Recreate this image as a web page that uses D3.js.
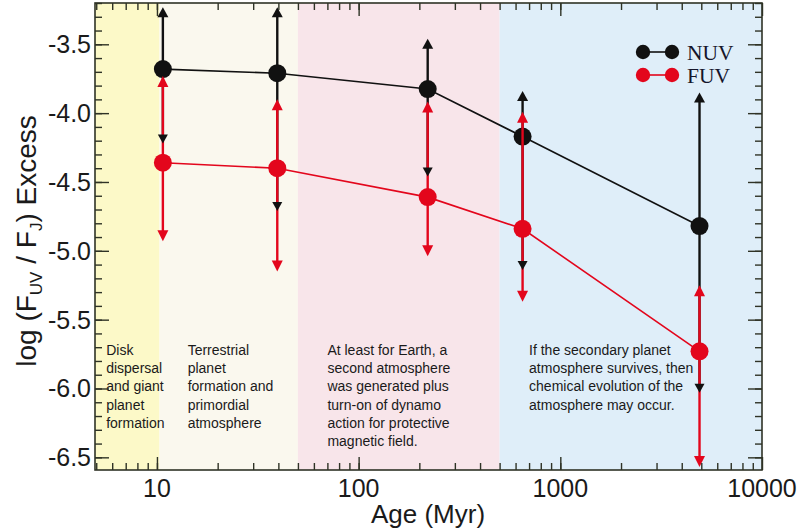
<!DOCTYPE html>
<html><head><meta charset="utf-8">
<script src="https://cdn.jsdelivr.net/npm/d3@7"></script>
<style>body{margin:0;background:#fff}svg{display:block}</style>
</head><body>
<svg id="c" width="800" height="532"></svg>
<script>
// ---- data ----
const ages = [10.7, 39.5, 220, 650, 4900];
const nuv = [-3.68, -3.71, -3.825, -4.17, -4.82];
const nuvUpper = [-3.23, -3.23, -3.46, -3.84, -3.85];
const nuvLower = [-4.22, -4.71, -4.46, -5.14, -6.03];
const fuv = [-4.36, -4.40, -4.61, -4.84, -5.73];
const fuvUpper = [-3.73, -3.90, -3.915, -3.99, -5.25];
const fuvLower = [-4.93, -5.15, -5.04, -5.37, -6.57];
const regionStart = [4.93, 10.3, 50, 500];
const regionEnd = [10.3, 50, 500, 10000];
const regionColor = ["#fcf9c8", "#faf8ee", "#f8e5ea", "#dfeef9"];
const regionText = [
  ["Disk", "dispersal", "and giant", "planet", "formation"],
  ["Terrestrial", "planet", "formation and", "primordial", "atmosphere"],
  ["At least for Earth, a", "second atmosphere", "was generated plus", "turn-on of dynamo", "action for protective", "magnetic field."],
  ["If the secondary planet", "atmosphere survives, then", "chemical evolution of the", "atmosphere may occur."]
];
const regionTextAge = [5.6, 14.2, 70, 700];
const xTickValues = [10, 100, 1000, 10000];
const yTickValues = [-3.5, -4.0, -4.5, -5.0, -5.5, -6.0, -6.5];
const seriesNames = ["NUV", "FUV"];

// ---- layout ----
const L = 95, R = 762, T = 3, B = 470;
const x = d3.scaleLog().domain([4.93, 10000]).range([L, R]);
const y = d3.scaleLinear().domain([-6.592, -3.2]).range([B, T]);
const svg = d3.select("#c");
const black = "#111111", red = "#e3061c", axisCol = "#2f3326";

// regions
svg.selectAll("rect.reg").data(regionStart).join("rect")
  .attr("x", (d) => x(d)).attr("y", T)
  .attr("width", (d, i) => x(regionEnd[i]) - x(d)).attr("height", B - T)
  .attr("fill", (d, i) => regionColor[i]);

// region text
regionText.forEach((lines, i) => {
  const t = svg.append("text").attr("x", x(regionTextAge[i]) ).attr("y", 355)
    .attr("font-family", "Liberation Sans, Arial, sans-serif").attr("font-size", 14)
    .attr("fill", "#1a1a1a");
  lines.forEach((ln, j) => t.append("tspan").attr("x", x(regionTextAge[i])).attr("dy", j ? 18.2 : 0).text(ln));
});

// clip for data
svg.append("clipPath").attr("id", "pc").append("rect").attr("x", L).attr("y", T).attr("width", R - L).attr("height", B - T);
const g = svg.append("g").attr("clip-path", "url(#pc)");

function arrowHead(sel, cx, tipY, dir, col, w, h) {
  const baseY = tipY - dir * h;
  sel.append("path").attr("d", `M${cx - w / 2},${baseY}L${cx + w / 2},${baseY}L${cx},${tipY}Z`).attr("fill", col);
}

const line = (vals) => d3.line().x((d, i) => x(ages[i])).y((d) => y(d))(vals);

// NUV
g.append("path").attr("d", line(nuv)).attr("fill", "none").attr("stroke", black).attr("stroke-width", 1.6);
ages.forEach((a, i) => {
  g.append("line").attr("x1", x(a)).attr("x2", x(a)).attr("y1", y(nuvUpper[i]) + 4).attr("y2", y(nuvLower[i]) - 4)
    .attr("stroke", black).attr("stroke-width", 2.4);
});
g.selectAll("circle.n").data(nuv).join("circle").attr("cx", (d, i) => x(ages[i])).attr("cy", (d) => y(d)).attr("r", 9).attr("fill", black);

// FUV
g.append("path").attr("d", line(fuv)).attr("fill", "none").attr("stroke", red).attr("stroke-width", 1.6);
ages.forEach((a, i) => {
  g.append("line").attr("x1", x(a)).attr("x2", x(a)).attr("y1", y(fuvUpper[i]) + 4).attr("y2", y(fuvLower[i]) - 4)
    .attr("stroke", red).attr("stroke-width", 2.4);
});
g.selectAll("circle.f").data(fuv).join("circle").attr("cx", (d, i) => x(ages[i])).attr("cy", (d) => y(d)).attr("r", 9).attr("fill", red);
ages.forEach((a, i) => {
  arrowHead(g, x(a), y(fuvUpper[i]), -1, red, 11, 11);
  arrowHead(g, x(a), y(fuvLower[i]), 1, red, 11, 11);
});
ages.forEach((a, i) => {
  arrowHead(g, x(a), y(nuvUpper[i]), -1, black, 11, 10);
  arrowHead(g, x(a), y(nuvLower[i]), 1, black, 10, 9);
});

// axes (ticks inward on all sides)
const minorX = [];
for (let e = 0; e < 4; e++) for (let k = 1; k < 10; k++) { const v = k * Math.pow(10, e); if (v >= 4.93 && v <= 10000) minorX.push(v); }
const minorY = d3.range(-32, -66, -1).map((v) => v / 10);

function addAxis(axisGen, transform) {
  const a = svg.append("g").attr("transform", transform).call(axisGen);
  a.selectAll("text").remove();
  a.select(".domain").remove();
  a.selectAll("line").attr("stroke", axisCol).attr("stroke-width", 1.4);
  return a;
}
addAxis(d3.axisBottom(x).tickValues(minorX).tickSize(-7).tickFormat(""), `translate(0,${B})`);
addAxis(d3.axisBottom(x).tickValues(xTickValues).tickSize(-13).tickFormat(""), `translate(0,${B})`);
addAxis(d3.axisTop(x).tickValues(minorX).tickSize(-7).tickFormat(""), `translate(0,${T})`);
addAxis(d3.axisTop(x).tickValues(xTickValues).tickSize(-13).tickFormat(""), `translate(0,${T})`);
addAxis(d3.axisLeft(y).tickValues(minorY).tickSize(-7).tickFormat(""), `translate(${L},0)`);
addAxis(d3.axisLeft(y).tickValues(yTickValues).tickSize(-14).tickFormat(""), `translate(${L},0)`);
addAxis(d3.axisRight(y).tickValues(minorY).tickSize(-7).tickFormat(""), `translate(${R},0)`);
addAxis(d3.axisRight(y).tickValues(yTickValues).tickSize(-14).tickFormat(""), `translate(${R},0)`);

// frame
svg.append("rect").attr("x", L).attr("y", T).attr("width", R - L).attr("height", B - T)
  .attr("fill", "none").attr("stroke", axisCol).attr("stroke-width", 1.6);

// tick labels
const lf = "Liberation Sans, Arial, sans-serif";
svg.selectAll("text.yl").data(yTickValues).join("text").attr("class", "yl")
  .attr("x", L - 4).attr("y", (d) => y(d) + 9).attr("text-anchor", "end")
  .attr("font-family", lf).attr("font-size", 25).attr("fill", "#1a1a1a")
  .text((d) => d3.format(".1f")(d).replace("−", "-"));
svg.selectAll("text.xl").data(xTickValues).join("text").attr("class", "xl")
  .attr("x", (d) => x(d)).attr("y", 497).attr("text-anchor", "middle")
  .attr("font-family", lf).attr("font-size", 25).attr("fill", "#1a1a1a")
  .text((d) => d);

// axis titles
svg.append("text").attr("x", 428).attr("y", 523).attr("text-anchor", "middle")
  .attr("font-family", lf).attr("font-size", 26).attr("fill", "#1a1a1a").text("Age (Myr)");
const yt = svg.append("text").attr("transform", "translate(36,241) rotate(-90)").attr("text-anchor", "middle")
  .attr("font-family", lf).attr("font-size", 28).attr("fill", "#1a1a1a");
yt.append("tspan").text("log (F");
yt.append("tspan").attr("font-size", 17).attr("dy", 6).text("UV");
yt.append("tspan").attr("dy", -6).text(" / F");
yt.append("tspan").attr("font-size", 17).attr("dy", 6).text("J");
yt.append("tspan").attr("dy", -6).text(") Excess");

// legend
const legY = [52, 75], legCol = [black, red];
seriesNames.forEach((s, i) => {
  svg.append("line").attr("x1", 643).attr("x2", 672).attr("y1", legY[i]).attr("y2", legY[i]).attr("stroke", legCol[i]).attr("stroke-width", 1.6);
  svg.append("circle").attr("cx", 643).attr("cy", legY[i]).attr("r", 7.2).attr("fill", legCol[i]);
  svg.append("circle").attr("cx", 672).attr("cy", legY[i]).attr("r", 7.2).attr("fill", legCol[i]);
  svg.append("text").attr("x", 687).attr("y", legY[i] + 7.5).attr("font-family", "Liberation Serif, Times New Roman, serif")
    .attr("font-size", 21.5).attr("fill", "#15152a").text(s);
});
</script>
</body></html>
